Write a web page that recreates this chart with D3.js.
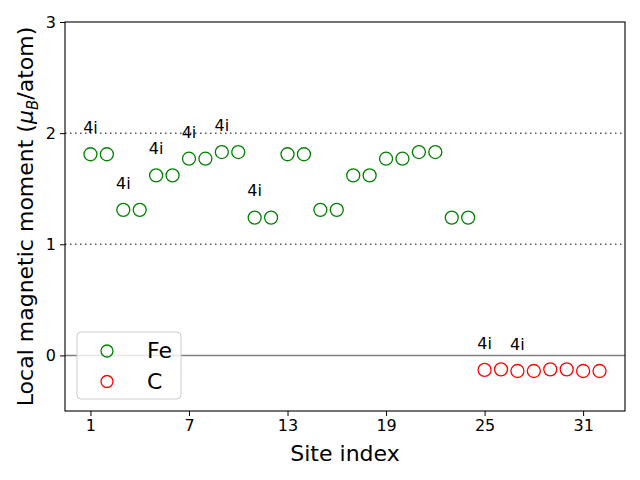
<!DOCTYPE html>
<html><head><meta charset="utf-8">
<script src="https://cdn.jsdelivr.net/npm/d3@7"></script>
<style>body{margin:0;background:#fff}svg{display:block}text{font-family:"DejaVu Sans",sans-serif}</style>
</head><body>
<svg id="c" width="640" height="480"></svg>
<script>
const feSites = [1,2,3,4,5,6,7,8,9,10,11,12,13,14,15,16,17,18,19,20,21,22,23,24];
const feValues = [1.81,1.81,1.31,1.31,1.62,1.62,1.77,1.77,1.83,1.83,1.24,1.24,1.81,1.81,1.31,1.31,1.62,1.62,1.77,1.77,1.83,1.83,1.24,1.24];
const cSites = [25,26,27,28,29,30,31,32];
const cValues = [-0.13,-0.125,-0.14,-0.14,-0.125,-0.125,-0.14,-0.14];
const labelSites = [1,3,5,7,9,11,25,27];
const labelText = "4i";
const xTicks = [1,7,13,19,25,31];
const yTicks = [0,1,2,3];
const refLines = [1,2];

const svg = d3.select("#c");
const L=65,R=625,T=22,B=411;
const x = d3.scaleLinear().domain([-0.55,33.55]).range([L,R]);
const y = d3.scaleLinear().domain([-0.5,3]).range([B,T]);

// reference lines
svg.selectAll(".ref").data(refLines).enter().append("line")
  .attr("x1",L).attr("x2",R).attr("y1",d=>y(d)).attr("y2",d=>y(d))
  .attr("stroke","#555").attr("stroke-width",1.5).attr("stroke-dasharray","1.5,3.5");
svg.append("line").attr("x1",L).attr("x2",R).attr("y1",y(0)).attr("y2",y(0))
  .attr("stroke","#808080").attr("stroke-width",1.5);

const allVals = {};
feSites.forEach((s,i)=>allVals[s]=feValues[i]);
cSites.forEach((s,i)=>allVals[s]=cValues[i]);

svg.selectAll(".fe").data(feSites).enter().append("circle")
  .attr("cx",d=>x(d)).attr("cy",(d,i)=>y(feValues[i])).attr("r",6.5)
  .attr("fill","none").attr("stroke","green").attr("stroke-width",1.3);
svg.selectAll(".cc").data(cSites).enter().append("circle")
  .attr("cx",d=>x(d)).attr("cy",(d,i)=>y(cValues[i])).attr("r",6.5)
  .attr("fill","none").attr("stroke","red").attr("stroke-width",1.3);

svg.selectAll(".lab").data(labelSites).enter().append("text")
  .attr("x",d=>x(d)).attr("y",d=>y(allVals[d]+0.19))
  .attr("text-anchor","middle").attr("font-size","16px").attr("fill","#000").text(labelText);

// axes
const gx = svg.append("g").attr("transform",`translate(0,${B})`)
  .call(d3.axisBottom(x).tickValues(xTicks).tickSize(5).tickPadding(4).tickFormat(d3.format("d")));
const gy = svg.append("g").attr("transform",`translate(${L},0)`)
  .call(d3.axisLeft(y).tickValues(yTicks).tickSize(5).tickPadding(4).tickFormat(d3.format("d")));
[gx,gy].forEach(g=>{g.select(".domain").remove();
  g.selectAll("text").attr("font-size","16px").attr("font-family","DejaVu Sans").attr("fill","#000");
  g.selectAll("line").attr("stroke","#000").attr("stroke-width",1);});
svg.append("rect").attr("x",L).attr("y",T).attr("width",R-L).attr("height",B-T)
  .attr("fill","none").attr("stroke","#000").attr("stroke-width",1.1);

svg.append("text").attr("x",(L+R)/2).attr("y",461).attr("text-anchor","middle")
  .attr("font-size","22px").text("Site index");
const yl = svg.append("text").attr("transform",`translate(33,${(T+B)/2}) rotate(-90)`)
  .attr("text-anchor","middle").attr("font-size","22px");
yl.append("tspan").text("Local magnetic moment (");
yl.append("tspan").attr("font-style","italic").text("μ");
yl.append("tspan").attr("font-style","italic").attr("font-size","15px").attr("dy",5).text("B");
yl.append("tspan").attr("dy",-5).text("/atom)");

// legend
const lg = svg.append("g");
lg.append("rect").attr("x",77).attr("y",332).attr("width",104).attr("height",67).attr("rx",4)
  .attr("fill","white").attr("fill-opacity",0.8).attr("stroke","#ccc").attr("stroke-width",1);
const legItems = [{n:"Fe",c:"green"},{n:"C",c:"red"}];
legItems.forEach((it,i)=>{
  lg.append("circle").attr("cx",107).attr("cy",351+i*30.5).attr("r",6).attr("fill","none")
    .attr("stroke",it.c).attr("stroke-width",1.3);
  lg.append("text").attr("x",147).attr("y",358+i*30.5).attr("font-size","22px").text(it.n);
});
</script>
</body></html>
